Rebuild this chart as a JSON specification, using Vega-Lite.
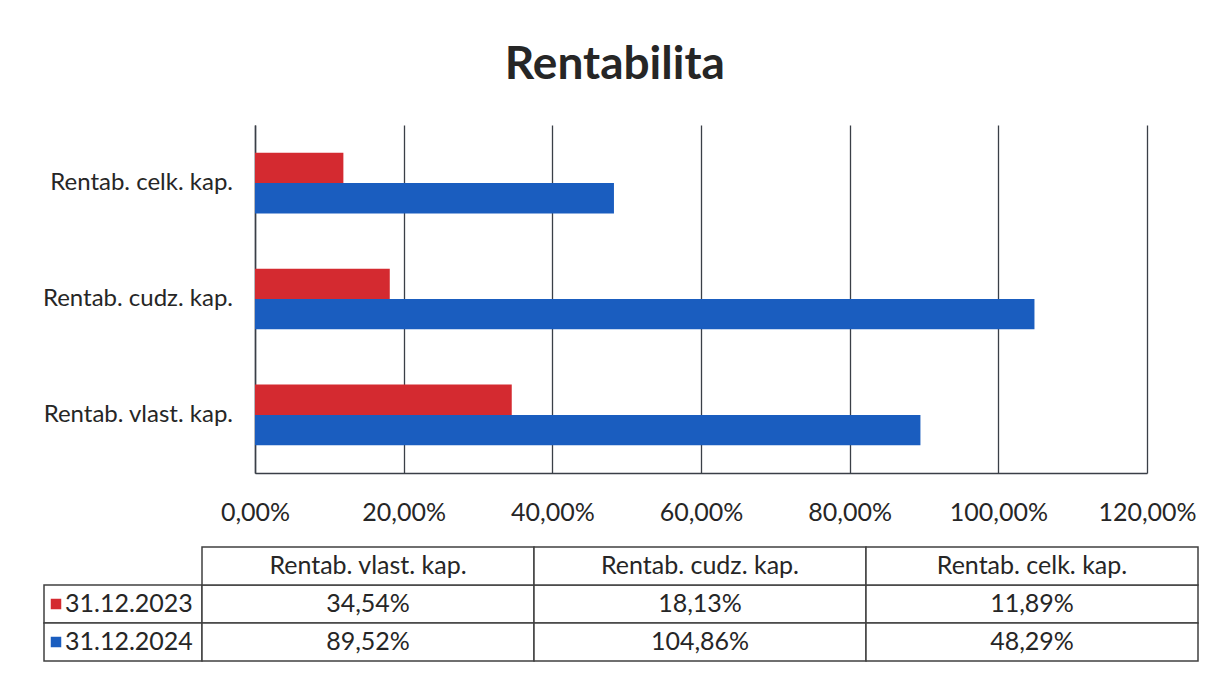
{
  "$schema": "https://vega.github.io/schema/vega-lite/v6.json",
  "background": "white",
  "padding": {"left": 42, "top": 42, "right": 10, "bottom": 10},
  "title": {
    "text": "Rentabilita",
    "font": "Lato",
    "fontSize": 46,
    "fontWeight": "bold",
    "color": "#262626",
    "anchor": "middle",
    "offset": 36,
    "dx": -6
  },
  "datasets": {
    "rent": [
      {"kat": "Rentab. vlast. kap.", "rok": "31.12.2023", "hodnota": 0.3454},
      {"kat": "Rentab. vlast. kap.", "rok": "31.12.2024", "hodnota": 0.8952},
      {"kat": "Rentab. cudz. kap.", "rok": "31.12.2023", "hodnota": 0.1813},
      {"kat": "Rentab. cudz. kap.", "rok": "31.12.2024", "hodnota": 1.0486},
      {"kat": "Rentab. celk. kap.", "rok": "31.12.2023", "hodnota": 0.1189},
      {"kat": "Rentab. celk. kap.", "rok": "31.12.2024", "hodnota": 0.4829}
    ]
  },
  "config": {
    "locale": {"number": {"decimal": ",", "thousands": "\u00a0", "grouping": [3], "currency": ["", " €"]}},
    "view": {"stroke": null},
    "font": "Lato"
  },
  "columns": 1,
  "spacing": 21,
  "concat": [
    {
      "bounds": "flush",
      "spacing": 0,
      "hconcat": [
        {
          "width": 211,
          "height": 348,
          "data": {"name": "rent"},
          "transform": [{"filter": "datum.rok === '31.12.2023'"}],
          "mark": {"type": "text", "align": "right", "baseline": "middle", "fontSize": 24, "color": "#262626", "dx": -22},
          "encoding": {
            "y": {
              "field": "kat",
              "type": "nominal",
              "sort": ["Rentab. celk. kap.", "Rentab. cudz. kap.", "Rentab. vlast. kap."],
              "scale": {"paddingInner": 0.477, "paddingOuter": 0.24},
              "axis": null
            },
            "x": {"datum": 1, "type": "quantitative", "scale": {"domain": [0, 1]}, "axis": null},
            "text": {"field": "kat"}
          }
        },
        {
          "width": 892,
          "height": 348,
          "data": {"name": "rent"},
          "mark": {"type": "bar"},
          "encoding": {
            "y": {
              "field": "kat",
              "type": "nominal",
              "sort": ["Rentab. celk. kap.", "Rentab. cudz. kap.", "Rentab. vlast. kap."],
              "scale": {"paddingInner": 0.477, "paddingOuter": 0.24},
              "axis": {
                "title": null,
                "labels": false,
                "ticks": false,
                "domainColor": "#3a3f47",
                "domainWidth": 1.5
              }
            },
            "yOffset": {"field": "rok", "type": "nominal", "sort": ["31.12.2023", "31.12.2024"]},
            "x": {
              "field": "hodnota",
              "type": "quantitative",
              "scale": {"domain": [0, 1.2], "nice": false},
              "axis": {
                "title": null,
                "format": ".2%",
                "values": [0, 0.2, 0.4, 0.6, 0.8, 1.0, 1.2],
                "grid": true,
                "gridColor": "#3a3f47",
                "gridWidth": 1.3,
                "ticks": false,
                "labelFlush": false,
                "labelFont": "Lato",
                "labelFontSize": 25,
                "labelColor": "#262626",
                "labelPadding": 27,
                "domainColor": "#3a3f47",
                "domainWidth": 1.5
              }
            },
            "color": {
              "field": "rok",
              "type": "nominal",
              "scale": {"domain": ["31.12.2023", "31.12.2024"], "range": ["#D42A30", "#1A5DBF"]},
              "legend": null
            }
          }
        }
      ]
    },
    {
      "spacing": 0,
      "bounds": "flush",
      "hconcat": [
        {
          "width": 158,
          "height": 114,
          "data": {"name": "rent"},
          "transform": [{"filter": "datum.kat === 'Rentab. vlast. kap.'"}],
          "encoding": {
            "y": {
              "field": "rok",
              "type": "nominal",
              "scale": {"domain": ["hlavička", "31.12.2023", "31.12.2024"], "paddingInner": 0, "paddingOuter": 0},
              "axis": null
            }
          },
          "layer": [
            {
              "mark": {"type": "rect", "fill": "white", "stroke": "#404040", "strokeWidth": 1.5},
              "encoding": {
                "x": {"datum": 0, "type": "quantitative", "scale": {"domain": [0, 1]}, "axis": null},
                "x2": {"datum": 1}
              }
            },
            {
              "mark": {"type": "square", "size": 110, "filled": true, "opacity": 1, "xOffset": 12},
              "encoding": {
                "x": {"datum": 0, "type": "quantitative"},
                "color": {"field": "rok", "type": "nominal", "scale": {"domain": ["31.12.2023", "31.12.2024"], "range": ["#D42A30", "#1A5DBF"]}, "legend": null}
              }
            },
            {
              "mark": {"type": "text", "align": "left", "baseline": "middle", "fontSize": 25, "color": "#262626", "dx": 21},
              "encoding": {
                "x": {"datum": 0, "type": "quantitative"},
                "text": {"field": "rok"}
              }
            }
          ]
        },
        {
          "width": 996,
          "height": 114,
          "data": {"name": "rent"},
          "encoding": {
            "x": {
              "field": "kat",
              "type": "nominal",
              "scale": {"domain": ["Rentab. vlast. kap.", "Rentab. cudz. kap.", "Rentab. celk. kap."], "paddingInner": 0, "paddingOuter": 0},
              "axis": null
            }
          },
          "layer": [
            {
              "mark": {"type": "rect", "fill": "white", "stroke": "#404040", "strokeWidth": 1.5},
              "encoding": {
                "y": {
                  "field": "rok",
                  "type": "nominal",
                  "scale": {"domain": ["hlavička", "31.12.2023", "31.12.2024"], "paddingInner": 0, "paddingOuter": 0},
                  "axis": null
                }
              }
            },
            {
              "transform": [{"filter": "datum.rok === '31.12.2023'"}],
              "mark": {"type": "rect", "fill": "white", "stroke": "#404040", "strokeWidth": 1.5},
              "encoding": {
                "y": {"datum": "hlavička", "type": "nominal"}
              }
            },
            {
              "mark": {"type": "text", "baseline": "middle", "fontSize": 25, "color": "#262626"},
              "encoding": {
                "y": {"field": "rok", "type": "nominal"},
                "text": {"field": "hodnota", "type": "quantitative", "format": ".2%"}
              }
            },
            {
              "transform": [{"filter": "datum.rok === '31.12.2023'"}],
              "mark": {"type": "text", "baseline": "middle", "fontSize": 25, "color": "#262626"},
              "encoding": {
                "y": {"datum": "hlavička", "type": "nominal"},
                "text": {"field": "kat"}
              }
            }
          ]
        }
      ]
    }
  ]
}
